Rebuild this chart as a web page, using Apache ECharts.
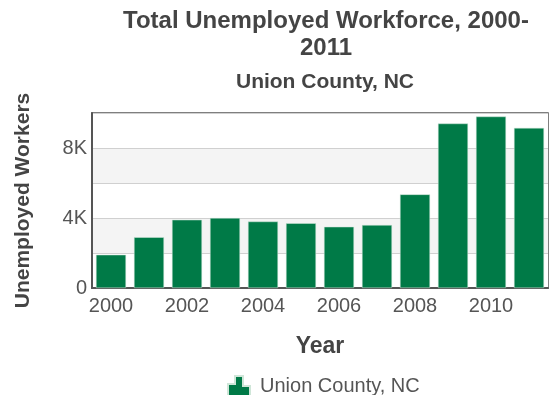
<!DOCTYPE html>
<html><head><meta charset="utf-8">
<script src="https://cdn.jsdelivr.net/npm/echarts@6/dist/echarts.min.js"></script>
<style>html,body{margin:0;padding:0;background:#fff}#c{width:550px;height:395px}</style>
</head><body><div id="c"></div>
<script>
var years = ['2000','2001','2002','2003','2004','2005','2006','2007','2008','2009','2010','2011'];
var unemployed = [1900, 2900, 3900, 4000, 3800, 3700, 3500, 3600, 5350, 9400, 9800, 9150];
var seriesName = 'Union County, NC';
var chart = echarts.init(document.getElementById('c'));
var ff = 'Liberation Sans';
chart.setOption({
  animation: false,
  textStyle: {fontFamily: ff},
  title: [
    {text: 'Total Unemployed Workforce, 2000-\n2011', left: 321, textAlign: 'center', top: 3,
     textStyle: {fontSize: 24, fontWeight: 'bold', color: '#444', lineHeight: 27, fontFamily: ff}},
    {text: 'Union County, NC', left: 320, textAlign: 'center', top: 67,
     textStyle: {fontSize: 21, fontWeight: 'bold', color: '#444', fontFamily: ff}}
  ],
  legend: {
    top: 370, left: 222, itemWidth: 24, itemHeight: 20, itemGap: 20,
    icon: 'path://M0,8 L7,8 L7,0 L15,0 L15,10 L22,10 L22,20 L0,20 Z',
    textStyle: {fontSize: 20, color: '#555', fontFamily: ff, padding: [0, 0, 0, 4]},
    data: [seriesName]
  },
  grid: {left: 92, right: 2, top: 113, bottom: 107, show: true, borderColor: '#555', borderWidth: 1.5, backgroundColor: 'transparent'},
  xAxis: {
    type: 'category', data: years,
    name: 'Year', nameLocation: 'middle', nameGap: 47,
    nameTextStyle: {fontSize: 23, fontWeight: 'bold', color: '#444', fontFamily: ff},
    axisLine: {lineStyle: {color: '#555', width: 2}},
    axisTick: {show: false},
    axisLabel: {interval: 1, fontSize: 20, color: '#555', margin: 8, fontFamily: ff}
  },
  yAxis: {
    type: 'value', min: 0, max: 10000, interval: 2000,
    name: 'Unemployed Workers', nameLocation: 'middle', nameGap: 58,
    nameTextStyle: {fontSize: 21, fontWeight: 'bold', color: '#444', fontFamily: ff},
    axisLine: {show: true, lineStyle: {color: '#555', width: 2}},
    axisTick: {show: false},
    axisLabel: {fontSize: 20, color: '#555', margin: 5, fontFamily: ff, formatter: function (v) {
      if (v === 0) return '0';
      if (v % 4000 === 0 && v < 10000) return (v / 1000) + 'K';
      return '';
    }},
    splitLine: {lineStyle: {color: '#d0d0d0'}},
    splitArea: {show: true, areaStyle: {color: ['#ffffff', '#f4f4f4']}}
  },
  series: [{
    name: seriesName, type: 'bar', data: unemployed, barCategoryGap: '21%',
    itemStyle: {color: '#007a47', borderColor: '#cfe6d8', borderWidth: 0.5}
  }]
});
</script></body></html>
